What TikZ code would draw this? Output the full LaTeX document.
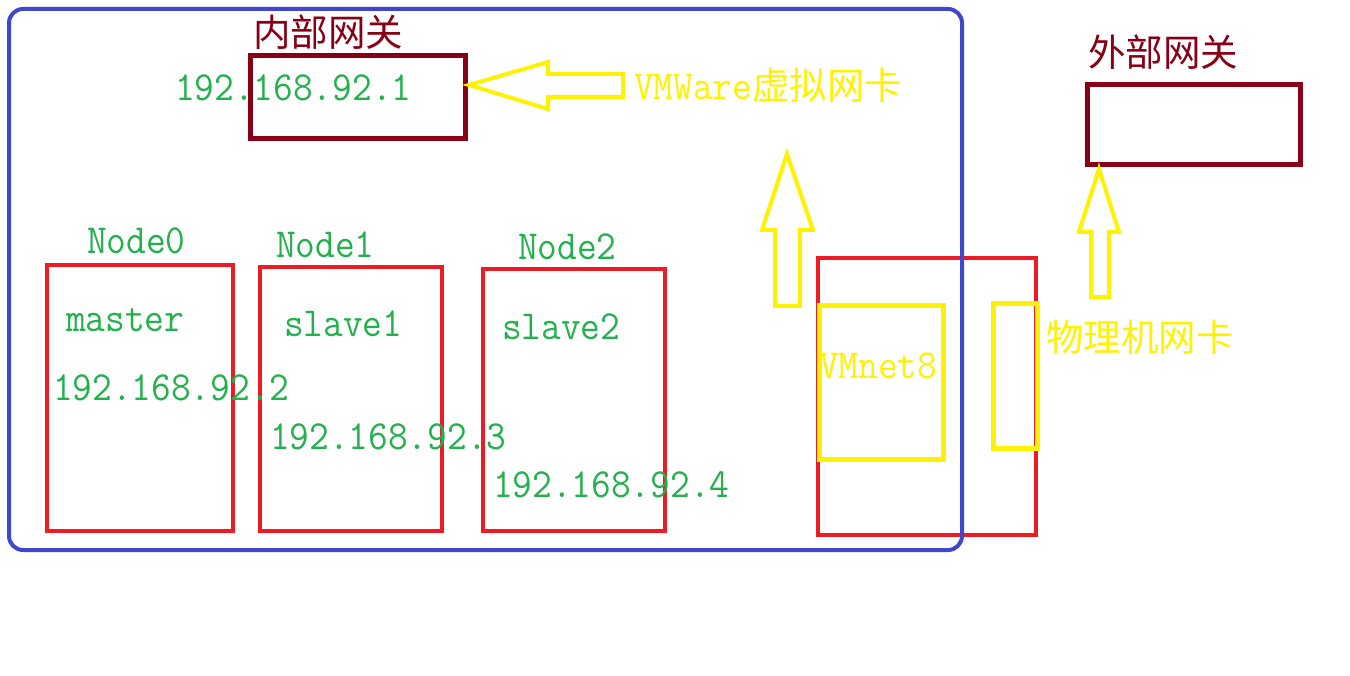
\documentclass[tikz,border=0pt]{standalone}
\usepackage{fontspec}
\usepackage{graphicx}
\newfontfamily\cjk{Noto Sans CJK SC}
\definecolor{frameblue}{HTML}{3F48CC}
\definecolor{gwred}{HTML}{880015}
\definecolor{boxred}{HTML}{ED1C24}
\definecolor{hlyellow}{HTML}{FFF200}
\definecolor{ipgreen}{HTML}{22B14C}
\newcommand{\lt}[1]{\scalebox{1}[1.08]{\ttfamily #1}}
\newcommand{\zh}[1]{{\cjk\fontsize{37.5}{40}\selectfont #1}}
\begin{document}
\begin{tikzpicture}[x=1pt,y=-1pt,
  txt/.style={inner sep=0pt, outer sep=0pt, anchor=base west, font=\fontsize{38.3}{40}\selectfont},
  rbox/.style={draw=boxred, line width=4pt, inner sep=0pt, outer sep=0pt},
  gwbox/.style={draw=gwred, line width=5pt, inner sep=0pt, outer sep=0pt},
  ybox/.style={draw=hlyellow, line width=5pt, inner sep=0pt, outer sep=0pt},
  yarrow/.style={draw=hlyellow, line width=4pt, line join=miter}]
\useasboundingbox[fill=white] (0,0) rectangle (1350,676);
% red boxes
\node[rbox, minimum width=186pt, minimum height=266pt] (n0box) at (140,398) {};
\node[rbox, minimum width=182pt, minimum height=264pt] (n1box) at (351,399) {};
\node[rbox, minimum width=182pt, minimum height=262pt] (n2box) at (574,400) {};
\node[rbox, minimum width=218pt, minimum height=277pt] (host) at (927,396.5) {};
% blue frame
\node[draw=frameblue, line width=4pt, rounded corners=14pt, minimum width=953pt, minimum height=541pt, inner sep=0pt] (vmframe) at (485.5,279.5) {};
% gateways
\node[gwbox, minimum width=215pt, minimum height=83pt] (ingw) at (358,97) {};
\node[gwbox, minimum width=213pt, minimum height=80pt] (exgw) at (1193.5,125) {};
% yellow boxes
\node[ybox, minimum width=124pt, minimum height=153pt] (vmnet) at (881,382.5) {};
\node[ybox, minimum width=44pt, minimum height=144pt] (phys) at (1015,376) {};
% arrows
\draw[yarrow] (469,85) -- (548,62) -- (548,74) -- (623,74) -- (623,97) -- (548,97) -- (548,109) -- cycle;
\draw[yarrow] (787,154) -- (813,230) -- (800,230) -- (800,306) -- (775,306) -- (775,230) -- (762,230) -- cycle;
\draw[yarrow] (1099,169) -- (1119,232) -- (1109,232) -- (1109,297) -- (1091,297) -- (1091,232) -- (1079,232) -- cycle;
% texts
\node[txt, text=gwred] (ingwlbl) at (253,47) {\zh{内部网关}};
\node[txt, text=gwred] (exgwlbl) at (1088,67) {\zh{外部网关}};
\node[txt, text=ipgreen] (ip1) at (175,101) {\lt{192.168.92.1}};
\node[txt, text=hlyellow] (vmwlbl) at (634,100) {\lt{VMWare}\zh{虚拟网卡}};
\node[txt, text=ipgreen] (n0lbl) at (87,254) {\lt{Node0}};
\node[txt, text=ipgreen] (n1lbl) at (276,258) {\lt{Node1}};
\node[txt, text=ipgreen] (n2lbl) at (518,260) {\lt{Node2}};
\node[txt, text=ipgreen] (m0) at (66,332) {\lt{master}};
\node[txt, text=ipgreen] (s1) at (284,337) {\lt{slave1}};
\node[txt, text=ipgreen] (s2) at (502,340) {\lt{slave2}};
\node[txt, text=ipgreen] (ip2) at (53,400) {\lt{192.168.92.2}};
\node[txt, text=ipgreen] (ip3) at (270,449) {\lt{192.168.92.3}};
\node[txt, text=ipgreen] (ip4) at (493,497) {\lt{192.168.92.4}};
\node[txt, text=hlyellow] (vmnetlbl) at (819,379) {\lt{VMnet8}};
\node[txt, text=hlyellow] (physlbl) at (1046,352) {\zh{物理机网卡}};
\end{tikzpicture}
\end{document}
